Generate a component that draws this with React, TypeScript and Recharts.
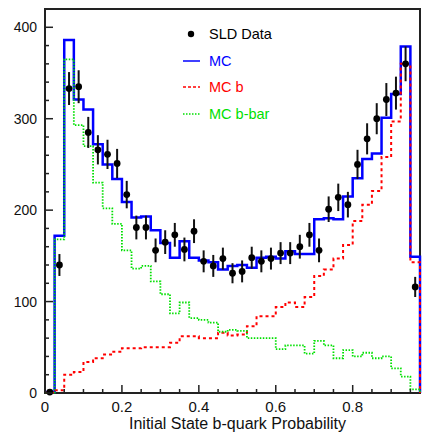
import { ComposedChart, Line, Scatter, ErrorBar, XAxis, YAxis, ReferenceArea, Legend } from 'recharts';

const FONT = '"Liberation Sans", Arial, Helvetica, sans-serif';

// lower edges of the 0.025 wide bins, histogram ends at 0.975
const binLo = [
  0, 0.025, 0.05, 0.075, 0.1, 0.125, 0.15, 0.175, 0.2, 0.225, 0.25, 0.275, 0.3,
  0.325, 0.35, 0.375, 0.4, 0.425, 0.45, 0.475, 0.5, 0.525, 0.55, 0.575, 0.6,
  0.625, 0.65, 0.675, 0.7, 0.725, 0.75, 0.775, 0.8, 0.825, 0.85, 0.875, 0.9,
  0.925, 0.95,
];
const xMax = 0.975;
const halfBin = 0.0125;

const mc = [
  1, 172, 386, 321, 310, 272, 250, 234, 209, 192, 193, 178, 164, 148, 166, 148,
  145, 143, 135, 139, 140, 137, 148, 149, 147, 155, 152, 152, 190, 191, 190, 215,
  235, 256, 262, 301, 327, 379, 149,
];
const mcB = [
  0.5, 3, 20, 23, 34, 38, 42, 45, 49, 49, 50, 50, 50, 55, 62, 62, 60, 60, 66, 63,
  64, 73, 84, 84, 94, 99, 94, 105, 128, 135, 147, 162, 188, 206, 221, 258, 297,
  360, 143,
];
const mcBbar = [
  0.5, 168, 365, 293, 270, 230, 202, 185, 156, 136, 139, 122, 108, 87, 99, 82,
  80, 77, 67, 69, 68, 60, 60, 60, 48, 52, 52, 43, 57, 52, 38, 47, 40, 44, 38, 40,
  27, 18, 4,
];
const sld = [
  1, 140, 333, 335, 285, 266, 261, 251, 217, 181, 181, 156, 165, 173, 157, 177,
  144, 139, 147, 131, 133, 148, 144, 147, 153, 153, 160, 173, 156, 201, 214, 206,
  250, 278, 300, 321, 328, 360, 116,
];
const sldErr = [
  1, 12, 18, 18, 17, 16, 16, 16, 15, 13, 13, 13, 13, 13, 13, 13, 12, 12, 12, 11,
  12, 12, 12, 12, 12, 12, 13, 13, 13, 14, 15, 14, 16, 17, 17, 18, 18, 19, 11,
];

const xTicks = [
  0, 0.05, 0.1, 0.15, 0.2, 0.25, 0.3, 0.35, 0.4, 0.45, 0.5, 0.55, 0.6, 0.65, 0.7,
  0.75, 0.8, 0.85, 0.9, 0.95,
];
const yTicks = [
  0, 20, 40, 60, 80, 100, 120, 140, 160, 180, 200, 220, 240, 260, 280, 300, 320,
  340, 360, 380, 400,
];

const steps = [
  ...binLo.map((x, i) => ({ x, mc: mc[i], mcB: mcB[i], mcBbar: mcBbar[i] })),
  { x: xMax, mc: 0, mcB: 0, mcBbar: 0 },
];
const points = binLo.map((x, i) => ({ x: x + halfBin, y: sld[i], err: sldErr[i] }));

const legendItems = [
  { label: 'SLD Data', color: '#000000', kind: 'marker' },
  { label: 'MC', color: '#0000ff', kind: 'solid' },
  { label: 'MC b', color: '#ff0000', kind: 'dashed' },
  { label: 'MC b-bar', color: '#00e000', kind: 'dotted' },
];

function YTick({ x, y, payload }: any) {
  const major = payload.value % 100 === 0;
  return (
    <g>
      <line x1={x} x2={x + (major ? 8 : 4)} y1={y} y2={y} stroke="#222" strokeWidth={1.5} />
      {major && (
        <text x={x - 8} y={y + 5} textAnchor="end" fontSize={14} fontFamily={FONT} fill="#111">
          {payload.value}
        </text>
      )}
    </g>
  );
}

function XTick({ x, y, payload }: any) {
  const v = payload.value;
  const major = Math.abs(v / 0.2 - Math.round(v / 0.2)) < 1e-6;
  return (
    <g>
      <line x1={x} x2={x} y1={y} y2={y - (major ? 8 : 4)} stroke="#222" strokeWidth={1.5} />
      {major && (
        <text x={x} y={y + 19} textAnchor="middle" fontSize={15} fontFamily={FONT} fill="#111">
          {Number(v.toFixed(1))}
        </text>
      )}
    </g>
  );
}

function LegendBox() {
  return (
    <div style={{ fontFamily: FONT, fontSize: 14.5 }}>
      {legendItems.map((item) => (
        <div key={item.label} style={{ display: 'flex', alignItems: 'center', height: 26.5 }}>
          <svg width={29} height={10} style={{ display: 'block' }}>
            {item.kind === 'marker' && <circle cx={11} cy={5} r={3.2} fill="#000" />}
            {item.kind === 'solid' && <line x1={3} x2={20} y1={5} y2={5} stroke={item.color} strokeWidth={1.5} />}
            {item.kind === 'dashed' && (
              <line x1={3} x2={20} y1={5} y2={5} stroke={item.color} strokeWidth={1.5} strokeDasharray="3 2" />
            )}
            {item.kind === 'dotted' && (
              <line x1={3} x2={20} y1={5} y2={5} stroke={item.color} strokeWidth={1.5} strokeDasharray="1.5 1.5" />
            )}
          </svg>
          <span style={{ color: item.color, whiteSpace: 'nowrap' }}>{item.label}</span>
        </div>
      ))}
    </div>
  );
}

export default function App() {
  return (
    <div style={{ position: 'absolute', left: 0, top: 0, background: '#fff' }}>
      <ComposedChart width={424} height={434} data={steps} margin={{ top: 9, right: 4, bottom: 0, left: 0 }}>
        <XAxis
          dataKey="x"
          type="number"
          domain={[0, xMax]}
          ticks={xTicks}
          interval={0}
          tickSize={0}
          tickMargin={0}
          axisLine={false}
          tickLine={false}
          tick={<XTick />}
          height={41}
          label={{
            value: 'Initial State b-quark Probability',
            position: 'insideBottom',
            offset: 5,
            dx: 5,
            fontSize: 16,
            fontFamily: FONT,
            fill: '#111',
          }}
        />
        <YAxis
          type="number"
          domain={[0, 420]}
          ticks={yTicks}
          interval={0}
          tickSize={0}
          tickMargin={0}
          axisLine={false}
          tickLine={false}
          tick={<YTick />}
          width={45}
        />
        <ReferenceArea x1={0} x2={xMax} y1={0} y2={420} fill="none" stroke="#222" strokeWidth={2} />
        <Line type="stepAfter" dataKey="mc" name="MC" stroke="#0000ff" strokeWidth={2.5} dot={false} isAnimationActive={false} />
        <Line
          type="stepAfter"
          dataKey="mcB"
          name="MC b"
          stroke="#ff0000"
          strokeWidth={2}
          strokeDasharray="3 3"
          dot={false}
          isAnimationActive={false}
        />
        <Line
          type="stepAfter"
          dataKey="mcBbar"
          name="MC b-bar"
          stroke="#00e000"
          strokeWidth={1.8}
          strokeDasharray="1.5 1.5"
          dot={false}
          isAnimationActive={false}
        />
        <Scatter
          data={points}
          dataKey="y"
          name="SLD Data"
          fill="#000"
          isAnimationActive={false}
          shape={(p: any) => <circle cx={p.cx} cy={p.cy} r={3.4} fill="#000" />}
        >
          <ErrorBar dataKey="err" direction="y" width={0} stroke="#111" strokeWidth={2} />
        </Scatter>
        <Legend
          layout="vertical"
          align="center"
          verticalAlign="middle"
          content={<LegendBox />}
          wrapperStyle={{ top: 21, left: 180, width: 'auto', height: 'auto' }}
        />
      </ComposedChart>
    </div>
  );
}
